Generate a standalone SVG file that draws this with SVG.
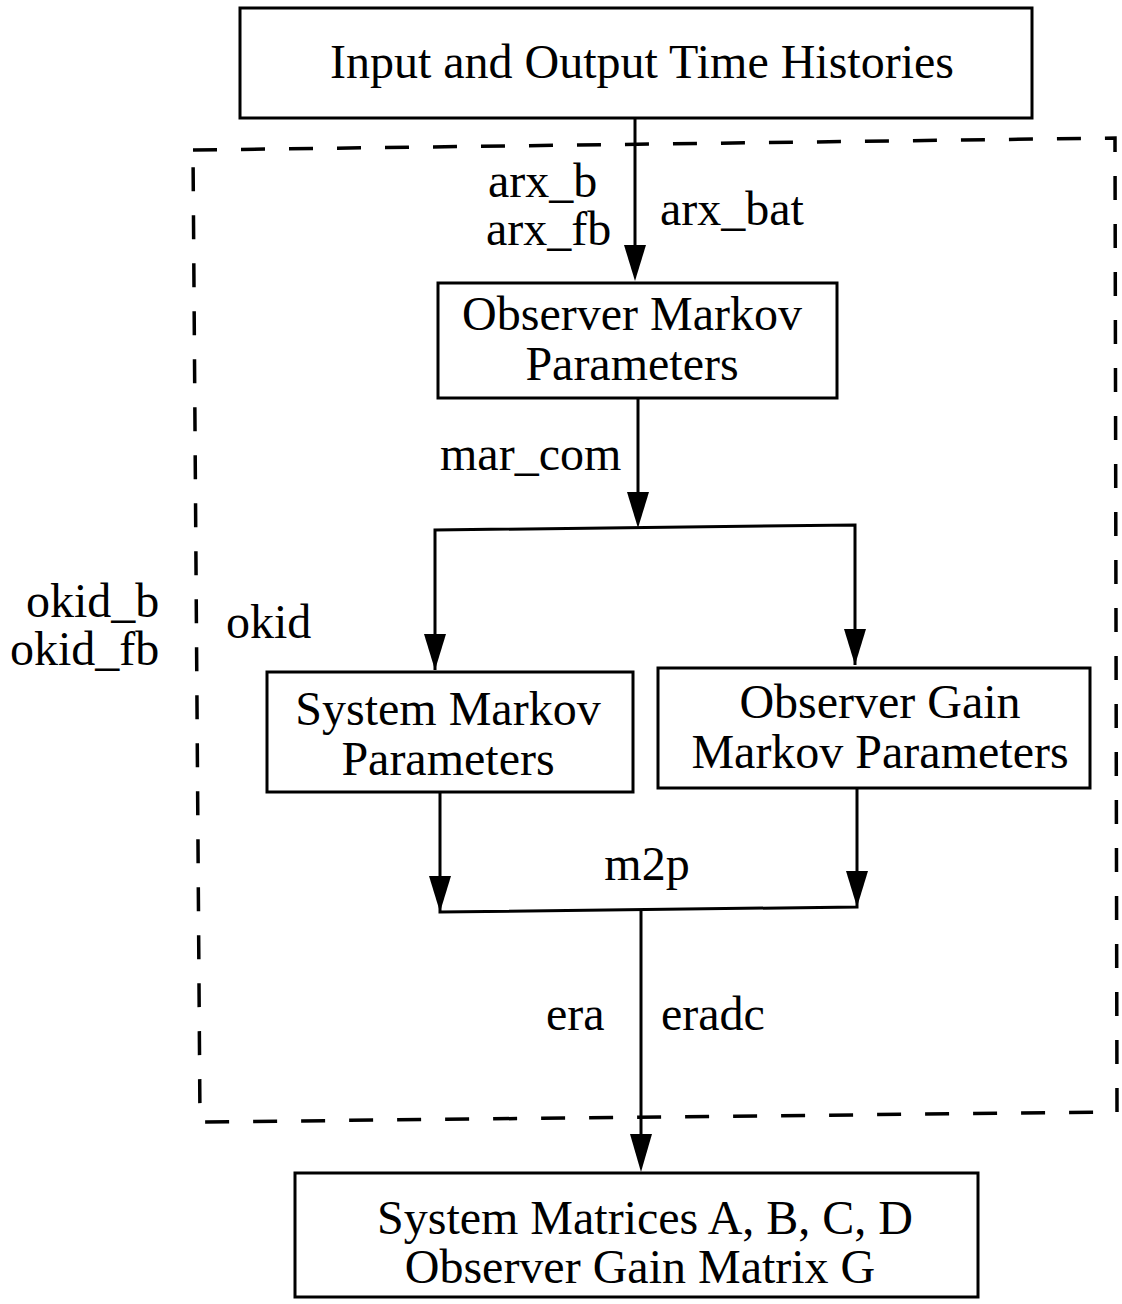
<svg xmlns="http://www.w3.org/2000/svg" width="1122" height="1304" viewBox="0 0 1122 1304">
<style>
.box{fill:#fff;stroke:#000;stroke-width:3}
.ln{fill:none;stroke:#000;stroke-width:3}
.dash{fill:none;stroke:#000;stroke-width:3.5;stroke-dasharray:24,24}
text{font-family:"Liberation Serif","Times New Roman",serif;font-size:48px;fill:#000}
.c{text-anchor:middle}
.ah{fill:#000}
</style>
<rect width="1122" height="1304" fill="#fff"/>
<g id="boundary">
<path class="dash" d="M193,150 L1115,138 L1117,1112 L200,1122 Z"/>
</g>
<g id="connectors">
<path class="ln" d="M635,118 V246"/>
<path class="ah" d="M624,245 L646,245 L635,281 Z"/>
<path class="ln" d="M638,398 V493"/>
<path class="ah" d="M627,492 L649,492 L638,528 Z"/>
<path class="ln" d="M435,670 V530 L855,525 V665"/>
<path class="ah" d="M424,634 L446,634 L435,670 Z"/>
<path class="ah" d="M844,629 L866,629 L855,665 Z"/>
<path class="ln" d="M440,792 V912 L857,907 V788"/>
<path class="ah" d="M429,876 L451,876 L440,912 Z"/>
<path class="ah" d="M846,871 L868,871 L857,907 Z"/>
<path class="ln" d="M641,910 V1135"/>
<path class="ah" d="M630,1134 L652,1134 L641,1172 Z"/>
</g>
<g id="n_input">
<rect class="box" x="240" y="8" width="792" height="110"/>
<text class="c" x="642" y="78">Input and Output Time Histories</text>
</g>
<g id="n_obs_markov">
<rect class="box" x="438" y="283" width="399" height="115"/>
<text class="c" x="632" y="330">Observer Markov</text>
<text class="c" x="632" y="380">Parameters</text>
</g>
<g id="n_sys_markov">
<rect class="box" x="267" y="672" width="366" height="120"/>
<text class="c" x="448" y="725">System Markov</text>
<text class="c" x="448" y="775">Parameters</text>
</g>
<g id="n_gain_markov">
<rect class="box" x="658" y="668" width="432" height="120"/>
<text class="c" x="880" y="718">Observer Gain</text>
<text class="c" x="880" y="768">Markov Parameters</text>
</g>
<g id="n_output">
<rect class="box" x="295" y="1173" width="683" height="124"/>
<text class="c" x="645" y="1234">System Matrices A, B, C, D</text>
<text class="c" x="640" y="1283">Observer Gain Matrix G</text>
</g>
<g id="labels">
<text x="488" y="197">arx_b</text>
<text x="486" y="245">arx_fb</text>
<text x="660" y="225">arx_bat</text>
<text x="440" y="470">mar_com</text>
<text x="26" y="617">okid_b</text>
<text x="10" y="665">okid_fb</text>
<text x="226" y="638">okid</text>
<text class="c" x="647" y="880">m2p</text>
<text x="546" y="1030">era</text>
<text x="661" y="1030">eradc</text>
</g>
</svg>
